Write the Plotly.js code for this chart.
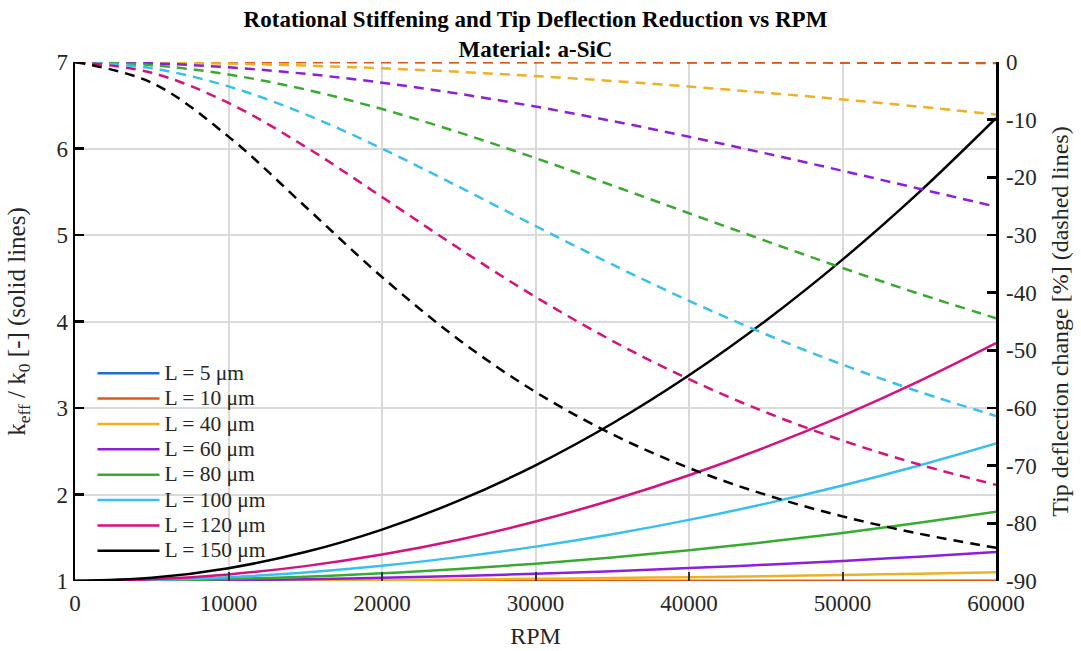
<!DOCTYPE html>
<html>
<head>
<meta charset="utf-8">
<script src="https://cdn.plot.ly/plotly-3.0.1.min.js"></script>
<style>html,body{margin:0;padding:0;background:#fff;}#chart{width:1081px;height:651px;}</style>
</head>
<body>
<div id="chart"></div>
<script>
// RPM sample points
const rpm = [0, 5000, 10000, 15000, 20000, 25000, 30000, 35000, 40000, 45000, 50000, 55000, 60000];

// Beam lengths and labels
const lengths = ["L = 5 μm", "L = 10 μm", "L = 40 μm", "L = 60 μm", "L = 80 μm", "L = 100 μm", "L = 120 μm", "L = 150 μm"];
const colors = ["#1a72c5", "#de5a0c", "#f0b024", "#8e1fd8", "#38aa32", "#38bff0", "#d4117f", "#000000"];

// k_eff / k_0 (solid lines)
const k5   = [1, 1, 1, 1, 1, 1, 1, 1, 1, 1, 1, 1, 1];
const k10  = [1, 1.0000, 1.0000, 1.0001, 1.0002, 1.0003, 1.0004, 1.0005, 1.0007, 1.0009, 1.0011, 1.0013, 1.0016];
const k40  = [1, 1.0007, 1.0028, 1.0063, 1.0111, 1.0174, 1.025, 1.034, 1.0444, 1.0563, 1.0694, 1.084, 1.10];
const k60  = [1, 1.0023, 1.0093, 1.0209, 1.0372, 1.0582, 1.0838, 1.114, 1.1489, 1.1884, 1.2326, 1.2815, 1.335];
const k80  = [1, 1.0056, 1.0222, 1.05, 1.0889, 1.1389, 1.2, 1.2722, 1.3556, 1.45, 1.5556, 1.6722, 1.80];
const k100 = [1, 1.011, 1.0442, 1.0994, 1.1767, 1.276, 1.3975, 1.541, 1.7067, 1.8944, 2.1042, 2.336, 2.59];
const k120 = [1, 1.0191, 1.0764, 1.1719, 1.3056, 1.4774, 1.6875, 1.9358, 2.2222, 2.5469, 2.9097, 3.3108, 3.75];
const k150 = [1, 1.0372, 1.1486, 1.3344, 1.5944, 1.9288, 2.3375, 2.8205, 3.3778, 4.0094, 4.7153, 5.4955, 6.35];

// Tip deflection change [%] (dashed lines)
const d5   = [0, 0, 0, 0, 0, 0, 0, 0, -0.004, -0.006, -0.007, -0.008, -0.01];
const d10  = [0, 0, -0.004, -0.01, -0.018, -0.028, -0.04, -0.054, -0.071, -0.09, -0.111, -0.134, -0.16];
const d40  = [0, -0.07, -0.28, -0.62, -1.10, -1.71, -2.44, -3.29, -4.26, -5.33, -6.49, -7.75, -9.09];
const d60  = [0, -0.23, -0.92, -2.05, -3.59, -5.50, -7.73, -10.23, -12.96, -15.85, -18.87, -21.97, -25.09];
const d80  = [0, -0.55, -2.17, -4.76, -8.16, -12.20, -16.67, -21.40, -26.23, -31.03, -35.72, -40.20, -44.44];
const d100 = [0, -1.09, -4.23, -9.04, -15.02, -21.63, -28.44, -35.11, -41.41, -47.21, -52.48, -57.19, -61.39];
const d120 = [0, -1.87, -7.10, -14.67, -23.41, -32.31, -40.74, -48.34, -55.00, -60.74, -65.63, -69.80, -73.33];
const d150 = [0, -3.59, -12.94, -25.06, -37.28, -48.15, -57.22, -64.55, -70.40, -75.06, -78.79, -81.80, -84.25];

// Axis tick labels
const xTicks = [0, 10000, 20000, 30000, 40000, 50000, 60000];
const xTickText = ["0", "10000", "20000", "30000", "40000", "50000", "60000"];
const y2Ticks = [0, -10, -20, -30, -40, -50, -60, -70, -80, -90];
const y2TickText = ["0", "-10", "-20", "-30", "-40", "-50", "-60", "-70", "-80", "-90"];

const stiff = [k5, k10, k40, k60, k80, k100, k120, k150];
const defl = [d5, d10, d40, d60, d80, d100, d120, d150];

const FONT = "Liberation Serif, Times New Roman, serif";
const traces = [];
for (let i = 0; i < lengths.length; i++) {
  traces.push({
    x: rpm, y: stiff[i], type: "scatter", mode: "lines",
    name: '<span style="font-size:21.5px">' + lengths[i] + '</span>',
    line: {color: colors[i], width: 2.5, shape: "spline"}, yaxis: "y", hoverinfo: "skip"
  });
  traces.push({
    x: rpm, y: defl[i], type: "scatter", mode: "lines", name: lengths[i], showlegend: false,
    line: {color: colors[i], width: 2.5, dash: "10px,7px", shape: "spline"}, yaxis: "y2", hoverinfo: "skip"
  });
}

const layout = {
  width: 1081, height: 651,
  margin: {l: 75, r: 85, t: 62, b: 70},
  paper_bgcolor: "#ffffff", plot_bgcolor: "#ffffff",
  font: {family: FONT, color: "#262626", size: 22},
  title: {
    text: "<b>Rotational Stiffening and Tip Deflection Reduction vs RPM</b><br><b>Material: a-SiC</b>",
    font: {family: FONT, size: 23, color: "#000"},
    x: 0.5, xref: "paper", xanchor: "center",
    y: 1, yref: "paper", yanchor: "bottom", pad: {b: 35}
  },
  xaxis: {
    range: [0, 60000], tickvals: xTicks, ticktext: xTickText,
    showgrid: true, gridcolor: "#dadada", gridwidth: 2, zeroline: false, showline: false,
    ticks: "inside", ticklen: 9, tickwidth: 2, tickcolor: "#333",
    ticklabelstandoff: 6,
    tickfont: {family: FONT, size: 23, color: "#262626"},
    title: {text: "RPM", font: {family: FONT, size: 24, color: "#262626"}, standoff: 12}
  },
  yaxis: {
    range: [1, 7], dtick: 1, tick0: 1,
    showgrid: true, gridcolor: "#dadada", gridwidth: 2, zeroline: false,
    showline: true, linecolor: "#000", linewidth: 2.5,
    ticks: "inside", ticklen: 9, tickwidth: 2.5, tickcolor: "#000",
    tickfont: {family: FONT, size: 23, color: "#262626"},
    title: {text: "k<sub>eff</sub> / k<sub>0</sub> [-] (solid lines)", font: {family: FONT, size: 25, color: "#262626"}, standoff: 24}
  },
  yaxis2: {
    range: [-90, 0], overlaying: "y", side: "right",
    tickvals: y2Ticks, ticktext: y2TickText,
    showgrid: false, zeroline: false,
    showline: true, linecolor: "#000", linewidth: 2.5,
    ticks: "inside", ticklen: 9, tickwidth: 2.5, tickcolor: "#000",
    ticklabelstandoff: 3,
    tickfont: {family: FONT, size: 23, color: "#262626"},
    title: {text: "Tip deflection change [%] (dashed lines)", font: {family: FONT, size: 24, color: "#262626"}, standoff: 16}
  },
  showlegend: true,
  legend: {
    x: 0.019, y: 0.024, xanchor: "left", yanchor: "bottom",
    bgcolor: "rgba(0,0,0,0)", borderwidth: 0,
    font: {family: FONT, size: 17.2, color: "#262626"},
    itemwidth: 62, tracegroupgap: 0
  }
};

Plotly.newPlot("chart", traces, layout, {staticPlot: true, displayModeBar: false});
</script>
</body>
</html>
